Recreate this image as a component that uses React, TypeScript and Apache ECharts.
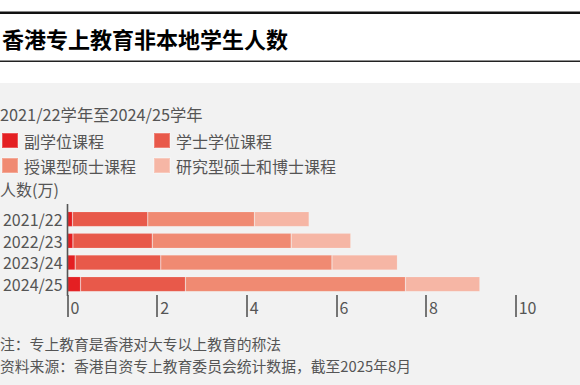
import React, { useEffect, useRef } from "react";
import * as echarts from "echarts";

const categories = ["2021/22", "2022/23", "2023/24", "2024/25"];
const seriesNames = ["副学位课程", "学士学位课程", "授课型硕士课程", "研究型硕士和博士课程"];
const subDegree = [0.11, 0.12, 0.17, 0.29];
const bachelor = [1.68, 1.77, 1.91, 2.34];
const taughtPG = [2.38, 3.1, 3.82, 4.91];
const researchPG = [1.22, 1.33, 1.46, 1.66];
const seriesValues = [subDegree, bachelor, taughtPG, researchPG];
const colors = ["#e41f22", "#e8594a", "#f08a72", "#f6b6a5"];
const xTicks = { min: 0, max: 10, interval: 2 };

const FONT = '"Noto Sans CJK SC", "Noto Sans", sans-serif';
const GREY = "#555";

export default function App() {
  const ref = useRef<HTMLDivElement>(null);
  useEffect(() => {
    document.body.style.margin = "0";
    const chart = echarts.init(ref.current!, null, { renderer: "svg" });
    const legendPos = [
      { left: 1, top: 132 },
      { left: 153, top: 132 },
      { left: 1, top: 157 },
      { left: 153, top: 157 },
    ];
    const option: any = {
      animation: false,
      backgroundColor: "#ffffff",
      textStyle: { fontFamily: FONT },
      grid: { left: 67.5, right: 64.3, top: 208.3, bottom: 90, containLabel: false },
      legend: seriesNames.map((n, i) => ({
        data: [n],
        left: legendPos[i].left,
        top: legendPos[i].top,
        padding: 0,
        icon: "rect",
        itemWidth: 16,
        itemHeight: 15,
        itemGap: 6,
        selectedMode: false,
        textStyle: { fontSize: 16, color: GREY, fontFamily: FONT, lineHeight: 15, padding: [0, 0, 0, 1] },
      })),
      xAxis: {
        type: "value",
        min: xTicks.min,
        max: xTicks.max,
        interval: xTicks.interval,
        axisLine: { show: false },
        splitLine: { show: false },
        axisTick: { show: true, length: 22, lineStyle: { color: GREY, width: 1.6 } },
        axisLabel: {
          margin: 4,
          align: "left",
          padding: [0, 0, 0, 3],
          fontSize: 16,
          color: GREY,
          fontFamily: FONT,
        },
      },
      yAxis: {
        type: "category",
        data: categories,
        inverse: true,
        axisLine: { show: false },
        axisTick: { show: false },
        axisLabel: { margin: 5, fontSize: 16, color: GREY, fontFamily: FONT },
      },
      series: seriesNames.map((n, i) => ({
        name: n,
        type: "bar",
        stack: "total",
        barWidth: 15,
        data: seriesValues[i],
        itemStyle: { color: colors[i], borderColor: "rgba(255,255,255,0.25)", borderWidth: 0.6 },
      })),
      graphic: [
        { type: "rect", z: -10, silent: true, shape: { x: 0, y: 83, width: 580, height: 302 }, style: { fill: "#f2f2f2" } },
        { type: "rect", z: 10, shape: { x: 0, y: 11.5, width: 580, height: 2.5 }, style: { fill: "#111" } },
        { type: "rect", z: 10, shape: { x: 0, y: 60.5, width: 580, height: 1.5 }, style: { fill: "#222" } },
        {
          type: "text",
          x: 2,
          y: 37.5,
          style: { text: "香港专上教育非本地学生人数", font: `bold 22px ${FONT}`, fill: "#000", verticalAlign: "middle" },
        },
        {
          type: "text",
          x: 0,
          y: 113.5,
          style: { text: "2021/22学年至2024/25学年", font: `16.3px ${FONT}`, fill: GREY, verticalAlign: "middle" },
        },
        {
          type: "text",
          x: 0,
          y: 189,
          style: { text: "人数(万)", font: `16px ${FONT}`, fill: GREY, verticalAlign: "middle" },
        },
        { type: "line", z: 10, shape: { x1: 67.5, y1: 204, x2: 67.5, y2: 296 }, style: { stroke: GREY, lineWidth: 1.6 } },
        {
          type: "text",
          x: 0,
          y: 343.5,
          style: { text: "注：专上教育是香港对大专以上教育的称法", font: `14.8px ${FONT}`, fill: GREY, verticalAlign: "middle" },
        },
        {
          type: "text",
          x: 0,
          y: 365,
          style: { text: "资料来源：香港自资专上教育委员会统计数据，截至2025年8月", font: `14.8px ${FONT}`, fill: GREY, verticalAlign: "middle" },
        },
      ],
    };
    chart.setOption(option);
    return () => chart.dispose();
  }, []);
  return <div ref={ref} style={{ position: "fixed", left: 0, top: 0, width: 580, height: 385 }} />;
}
